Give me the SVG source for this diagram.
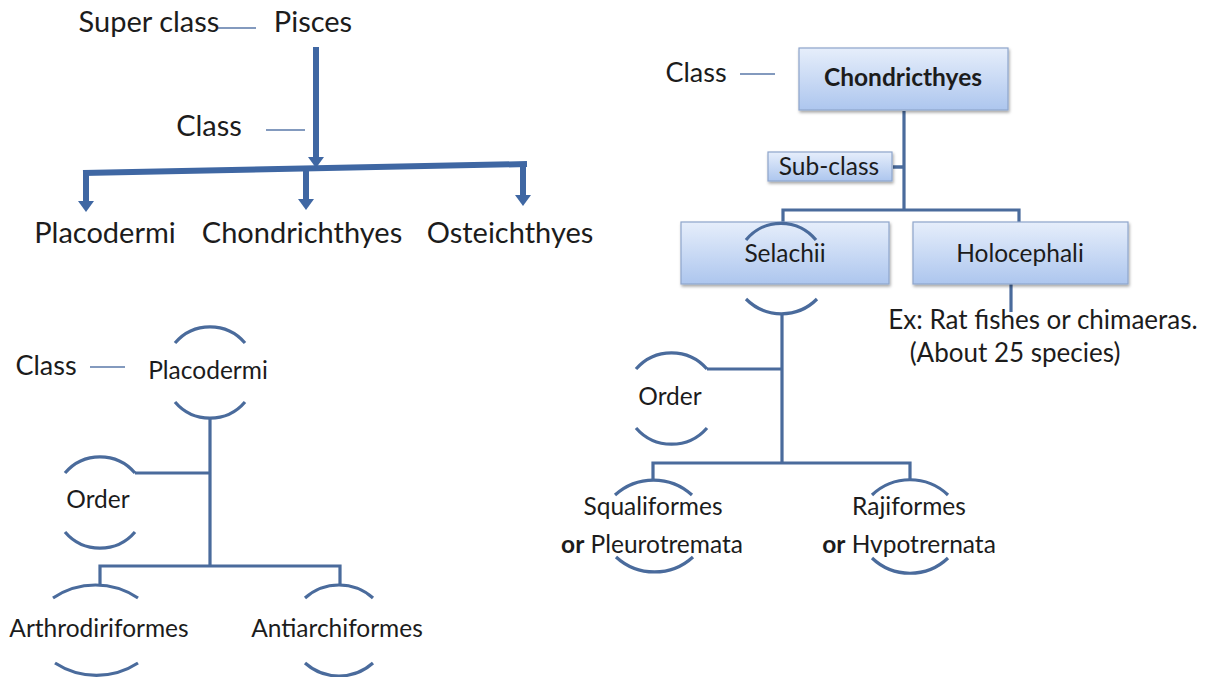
<svg xmlns="http://www.w3.org/2000/svg" width="1219" height="677" viewBox="0 0 1219 677">
<defs>
<linearGradient id="boxg" x1="0" y1="0" x2="0" y2="1">
<stop offset="0" stop-color="#e6eefb"/>
<stop offset="1" stop-color="#adc6ee"/>
</linearGradient>
<filter id="sh" x="-10%" y="-10%" width="120%" height="130%">
<feDropShadow dx="1" dy="2" stdDeviation="1.5" flood-color="#000" flood-opacity="0.35"/>
</filter>
</defs>
<style>
text{font-family:Lato,"Open Sans","Liberation Sans",sans-serif;fill:#1c1c1c;text-anchor:middle}
.big{font-size:29px}
.lab{font-size:27px}
.mid{font-size:24.5px}
.ex{font-size:26px}
.bold{font-weight:bold}
.box{fill:url(#boxg);stroke:#8ea5cb;stroke-width:1.2;filter:url(#sh)}
.ln{fill:none;stroke:#4a6b9c;stroke-width:3.2}
.thin{fill:none;stroke:#5a79a8;stroke-width:1.5}
.thick{fill:none;stroke:#3f67a3;stroke-width:6}
.head{fill:#3f67a3}
.arc{fill:none;stroke:#4a6b9c;stroke-width:3.2}
</style>
<rect width="1219" height="677" fill="#ffffff"/>

<g id="connectors">
<path class="thin" d="M218,28 H256"/>
<path class="thin" d="M266,130 H305"/>
<path class="thick" d="M316,47 V159"/>
<path class="head" d="M308,157 L324,157 L316,168 Z"/>
<path class="thick" d="M83,173 L527,164"/>
<path class="thick" d="M86,173 V203"/>
<path class="head" d="M78,201 L94,201 L86,212 Z"/>
<path class="thick" d="M306,169 V201"/>
<path class="head" d="M298,199 L314,199 L306,210 Z"/>
<path class="thick" d="M523,164 V197"/>
<path class="head" d="M515,195 L531,195 L523,206 Z"/>

<path class="thin" d="M740,74 H775"/>
<path class="ln" d="M904,111 V210 M783,210 H1019 M783,208.5 V222 M1019,208.5 V222"/>
<path class="ln" d="M893,167 H904" style="stroke-width:3.5"/>
<path class="ln" d="M1011,284 V312"/>
<path class="ln" d="M782,313 V463 M707,369 H782 M653,463 H910 M653,461.5 V480 M910,461.5 V480"/>

<path class="thin" d="M90,367 H125"/>
<path class="ln" d="M210,418 V566 M135,473 H210 M100,566 H340 M100,564.5 V585 M340,564.5 V585"/>
</g>

<g id="superclass">
<text class="big" x="149" y="32">Super class</text>
</g>
<g id="pisces">
<text class="big" x="313" y="32">Pisces</text>
</g>
<g id="class-label-1">
<text class="big" x="209" y="136">Class</text>
</g>
<g id="placodermi-1">
<text class="big" x="105" y="243">Placodermi</text>
</g>
<g id="chondrichthyes-1">
<text class="big" x="302" y="243">Chondrichthyes</text>
</g>
<g id="osteichthyes">
<text class="big" x="510" y="243">Osteichthyes</text>
</g>

<g id="class-label-2">
<text class="lab" x="696" y="82">Class</text>
</g>
<g id="chondricthyes-box">
<rect class="box" x="799" y="48" width="209" height="62"/>
<text class="mid bold" x="903" y="86">Chondricthyes</text>
</g>
<g id="subclass-box">
<rect class="box" x="768" y="152" width="124" height="29"/>
<text class="mid" x="829" y="175">Sub-class</text>
</g>
<g id="selachii">
<rect class="box" x="681" y="222" width="208" height="62"/>
<text class="mid" x="785" y="262">Selachii</text>
<path class="arc" d="M746,240 A45 45 0 0 1 816,240"/>
<path class="arc" d="M746,299 A50 50 0 0 0 817,299"/>
</g>
<g id="holocephali">
<rect class="box" x="913" y="222" width="215" height="62"/>
<text class="mid" x="1020" y="262">Holocephali</text>
</g>
<g id="example">
<text class="ex" x="1043" y="329">Ex: Rat fishes or chimaeras.</text>
<text class="ex" x="1015" y="362">(About 25 species)</text>
</g>
<g id="order-right">
<path class="arc" d="M636,369 A47 47 0 0 1 707,369"/>
<text class="mid" x="670" y="405">Order</text>
<path class="arc" d="M636,428 A47 47 0 0 0 707,428"/>
</g>
<g id="squaliformes">
<path class="arc" d="M615,495 A57 57 0 0 1 692,495"/>
<text class="mid" x="653" y="515">Squaliformes</text>
<text class="mid" x="652" y="553"><tspan class="bold">or</tspan> Pleurotremata</text>
<path class="arc" d="M616,557 A57 57 0 0 0 693,557"/>
</g>
<g id="rajiformes">
<path class="arc" d="M872,495 A55 55 0 0 1 948,495"/>
<text class="mid" x="909" y="515">Rajiformes</text>
<text class="mid" x="909" y="553"><tspan class="bold">or</tspan> Hvpotrernata</text>
<path class="arc" d="M872,558 A55 55 0 0 0 948,558"/>
</g>

<g id="class-label-3">
<text class="lab" x="46" y="375">Class</text>
</g>
<g id="placodermi-2">
<path class="arc" d="M175,343 A46 46 0 0 1 245,343"/>
<text class="mid" x="208" y="379">Placodermi</text>
<path class="arc" d="M175,402 A46 46 0 0 0 245,402"/>
</g>
<g id="order-left">
<path class="arc" d="M65,473 A46 46 0 0 1 135,473"/>
<text class="mid" x="98" y="508">Order</text>
<path class="arc" d="M65,532 A46 46 0 0 0 135,532"/>
</g>
<g id="arthrodiriformes">
<path class="arc" d="M53,598 A76 76 0 0 1 138,598"/>
<text class="mid" x="99" y="637">Arthrodiriformes</text>
<path class="arc" d="M55,663 A76 76 0 0 0 138,663"/>
</g>
<g id="antiarchiformes">
<path class="arc" d="M305,598 A51 51 0 0 1 373,598"/>
<text class="mid" x="337" y="637">Antiarchiformes</text>
<path class="arc" d="M305,663 A51 51 0 0 0 373,663"/>
</g>
</svg>
